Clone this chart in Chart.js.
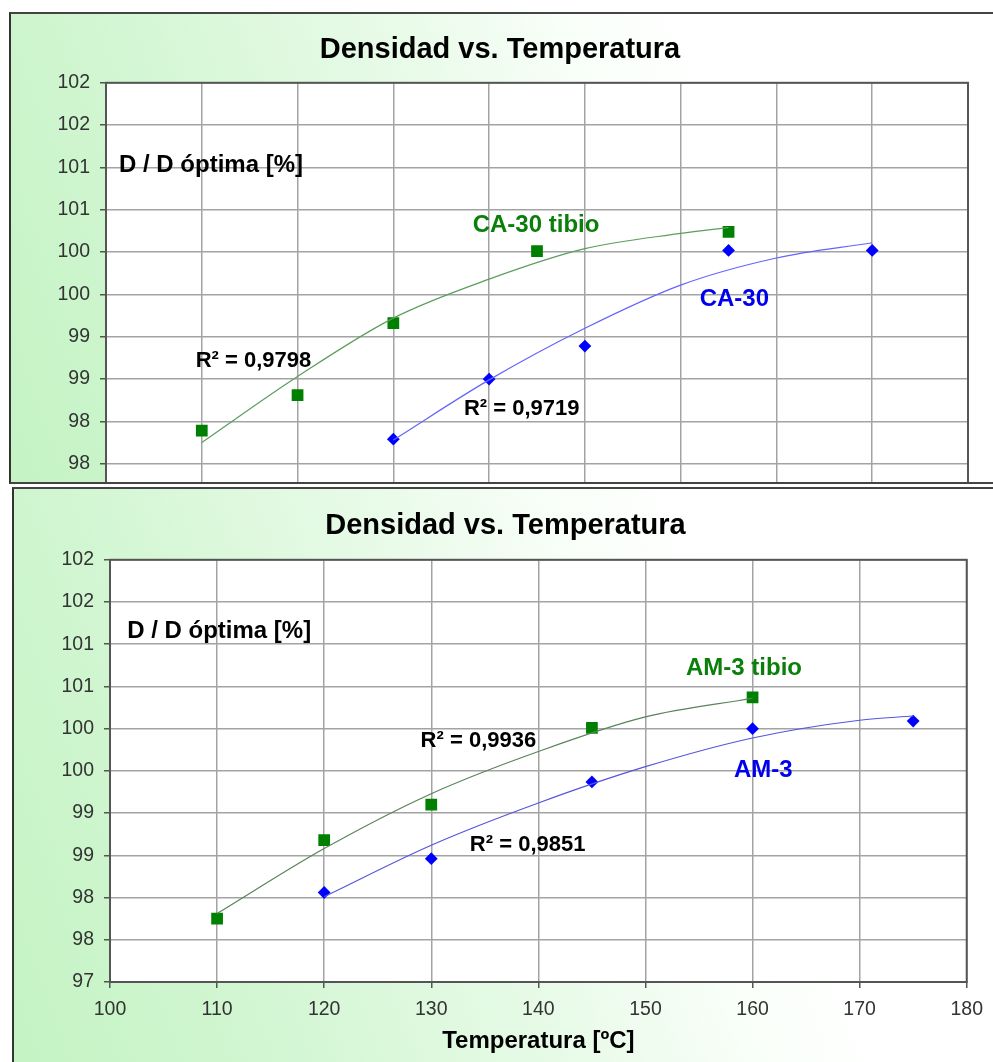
<!DOCTYPE html>
<html>
<head>
<meta charset="utf-8">
<script src="https://cdn.jsdelivr.net/npm/chart.js@4.4.0/dist/chart.umd.min.js"></script>
<style>
  body { margin: 0; background: #fff; width: 993px; height: 1062px; position: relative; overflow: hidden; }
  .frame { position: absolute; box-sizing: border-box;
    background: linear-gradient(70deg, #c4f3c4 0%, #d2f6d2 22%, #e6fae6 45%, #f8fef8 62%, #ffffff 74%); }
  #frameTop { left: 9px; top: 12px; width: 984px; height: 472px;
    border-top: 2px solid #444; border-left: 2px solid #333; border-bottom: 2px solid #444; }
  #frameBot { left: 12px; top: 487px; width: 981px; height: 575px;
    border-top: 2px solid #444; border-left: 2px solid #333; }
  .wrap { position: absolute; left: 0; width: 993px; overflow: hidden; z-index: 2; }
  #wrapTop { top: 0; height: 482px; }
  #wrapBot { top: 487px; height: 575px; }
</style>
</head>
<body>
<div class="frame" id="frameTop"></div>
<div class="frame" id="frameBot"></div>
<div class="wrap" id="wrapTop"><div style="position:relative;width:993px;height:530px"><canvas id="chartTop"></canvas></div></div>
<div class="wrap" id="wrapBot"><div style="position:relative;width:993px;height:575px"><canvas id="chartBot"></canvas></div></div>
<script>
// CA-30 (grafico de arriba)
var caTibioTemp = [110, 120, 130, 145, 165];
var caTibioDens = [97.89, 98.31, 99.16, 100.01, 100.24];
var caTemp = [130, 140, 150, 165, 180];
var caDens = [97.79, 98.50, 98.89, 100.02, 100.02];
// lineas de tendencia
var caTibioTrendTemp = [110, 120, 130, 140, 150, 160, 165];
var caTibioTrendDens = [97.75, 98.53, 99.22, 99.68, 100.04, 100.22, 100.29];
var caTrendTemp = [130, 140, 150, 160, 170, 180];
var caTrendDens = [97.78, 98.49, 99.10, 99.61, 99.93, 100.11];

// AM-3 (grafico de abajo)
var amTibioTemp = [110, 120, 130, 145, 160];
var amTibioDens = [97.75, 98.68, 99.10, 100.01, 100.37];
var amTemp = [120, 130, 145, 160, 175];
var amDens = [98.06, 98.46, 99.37, 100.00, 100.09];
var amTibioTrendTemp = [110, 120, 130, 140, 150, 160];
var amTibioTrendDens = [97.81, 98.58, 99.23, 99.73, 100.14, 100.36];
var amTrendTemp = [120, 130, 140, 150, 160, 170, 175];
var amTrendDens = [98.01, 98.62, 99.12, 99.55, 99.89, 100.10, 100.15];

// eje Y: Excel muestra los valores redondeados sin decimales
var yTicks = [97, 97.5, 98, 98.5, 99, 99.5, 100, 100.5, 101, 101.5, 102];
var yTickLabels = ['97', '98', '98', '99', '99', '100', '100', '101', '101', '102', '102'];

var FONT = '"Liberation Sans", Arial, sans-serif';
var GREEN = '#008000';
var BLUE = '#0000ff';

function pts(xs, ys) {
    return xs.map(function (x, i) { return { x: x, y: ys[i] }; });
}

// fondo blanco y marco del area de trazado
var plotArea = {
    id: 'plotArea',
    beforeDraw: function (chart) {
        var a = chart.chartArea, ctx = chart.ctx;
        ctx.save();
        ctx.fillStyle = '#fff';
        ctx.fillRect(a.left, a.top, a.width, a.height);
        ctx.restore();
    },
    beforeDatasetsDraw: function (chart) {
        var a = chart.chartArea, ctx = chart.ctx;
        ctx.save();
        ctx.strokeStyle = '#555';
        ctx.lineWidth = 2;
        ctx.strokeRect(a.left, a.top, a.width, a.height);
        ctx.restore();
    }
};

// textos sueltos dentro del grafico (R2, nombres de series, eje Y)
var notes = {
    id: 'notes',
    afterDatasetsDraw: function (chart, args, opts) {
        var ctx = chart.ctx, sx = chart.scales.x, sy = chart.scales.y;
        ctx.save();
        ctx.textBaseline = 'middle';
        opts.items.forEach(function (n) {
            ctx.font = 'bold ' + n.size + 'px ' + FONT;
            ctx.fillStyle = n.color;
            ctx.textAlign = n.align || 'center';
            ctx.fillText(n.text, sx.getPixelForValue(n.x), sy.getPixelForValue(n.y));
        });
        ctx.restore();
    }
};

function densChart(id, o) {
    var grid = { color: '#a3a3a3', lineWidth: 1.5, tickLength: 6, tickColor: '#555' };
    return new Chart(document.getElementById(id), {
        type: 'scatter',
        data: {
            datasets: [
                { data: pts(o.tibioTrendT, o.tibioTrendD), showLine: true, pointRadius: 0,
                  borderColor: o.greenLine, borderWidth: 1.2, cubicInterpolationMode: 'monotone', yAxisID: 'y' },
                { data: pts(o.trendT, o.trendD), showLine: true, pointRadius: 0,
                  borderColor: o.blueLine, borderWidth: 1.2, cubicInterpolationMode: 'monotone', yAxisID: 'y' },
                { data: pts(o.tibioT, o.tibioD), pointStyle: 'rect', pointRadius: 8.3,
                  backgroundColor: GREEN, borderWidth: 0, yAxisID: 'y' },
                { data: pts(o.t, o.d), pointStyle: 'rectRot', pointRadius: 6.4,
                  backgroundColor: BLUE, borderWidth: 0, yAxisID: 'y' }
            ]
        },
        options: {
            responsive: true,
            maintainAspectRatio: false,
            animation: false,
            layout: { padding: { left: o.padLeft, right: 0, top: 0, bottom: 0 } },
            plugins: {
                legend: { display: false },
                tooltip: { enabled: false },
                title: {
                    display: true,
                    text: 'Densidad vs. Temperatura',
                    color: '#000',
                    font: { family: FONT, size: 29, weight: 'bold' },
                    padding: o.titlePad
                },
                notes: { items: o.notes }
            },
            scales: {
                x: {
                    type: 'linear',
                    position: 'bottom',
                    min: 100,
                    max: o.xMax,
                    ticks: { stepSize: 10, display: o.xLabels, color: '#333', padding: 10,
                             font: { family: FONT, size: 19.5 } },
                    grid: grid,
                    border: { display: false },
                    title: {
                        display: o.xLabels,
                        text: 'Temperatura [ºC]',
                        color: '#000',
                        font: { family: FONT, size: 24, weight: 'bold' },
                        padding: { top: 4, bottom: 6 }
                    },
                    afterFit: function (s) { s.height = o.xHeight; }
                },
                y: {
                    type: 'linear',
                    position: 'left',
                    min: 97,
                    max: 102,
                    afterBuildTicks: function (s) {
                        s.ticks = yTicks.map(function (v) { return { value: v }; });
                    },
                    ticks: {
                        color: '#333',
                        padding: 10,
                        font: { family: FONT, size: 19.5 },
                        callback: function (v) { return yTickLabels[yTicks.indexOf(v)]; }
                    },
                    grid: grid,
                    border: { display: false },
                    afterFit: function (s) { s.width = o.yWidth; }
                },
                yR: {
                    type: 'linear',
                    position: 'right',
                    ticks: { display: false },
                    grid: { display: false },
                    border: { display: false },
                    afterFit: function (s) { s.width = o.rightWidth; }
                }
            }
        },
        plugins: [plotArea, notes]
    });
}

densChart('chartTop', {
    tibioT: caTibioTemp, tibioD: caTibioDens, t: caTemp, d: caDens,
    tibioTrendT: caTibioTrendTemp, tibioTrendD: caTibioTrendDens,
    trendT: caTrendTemp, trendD: caTrendDens,
    greenLine: '#5a9e5a', blueLine: '#6464ff',
    xMax: 190, xLabels: false, xHeight: 24,
    padLeft: 7, yWidth: 99, rightWidth: 25,
    titlePad: { top: 33, bottom: 15 },
    notes: [
        { text: 'D / D óptima [%]', x: 101.36, y: 101.03, size: 24, color: '#000', align: 'left' },
        { text: 'CA-30 tibio', x: 144.9, y: 100.32, size: 24, color: '#0a7f0a' },
        { text: 'R² = 0,9798', x: 115.4, y: 98.71, size: 22, color: '#000' },
        { text: 'CA-30', x: 165.6, y: 99.44, size: 24, color: '#0000ee' },
        { text: 'R² = 0,9719', x: 143.4, y: 98.15, size: 22, color: '#000' }
    ]
});

densChart('chartBot', {
    tibioT: amTibioTemp, tibioD: amTibioDens, t: amTemp, d: amDens,
    tibioTrendT: amTibioTrendTemp, tibioTrendD: amTibioTrendDens,
    trendT: amTrendTemp, trendD: amTrendDens,
    greenLine: '#5b825b', blueLine: '#5555dd',
    xMax: 180, xLabels: true, xHeight: 80,
    padLeft: 18, yWidth: 92, rightWidth: 20,
    titlePad: { top: 22, bottom: 16 },
    notes: [
        { text: 'D / D óptima [%]', x: 101.6, y: 101.15, size: 24, color: '#000', align: 'left' },
        { text: 'AM-3 tibio', x: 159.2, y: 100.71, size: 24, color: '#0a7f0a' },
        { text: 'R² = 0,9936', x: 134.4, y: 99.86, size: 22, color: '#000' },
        { text: 'AM-3', x: 161.0, y: 99.51, size: 24, color: '#0000ee' },
        { text: 'R² = 0,9851', x: 139.0, y: 98.62, size: 22, color: '#000' }
    ]
});
</script>
</body>
</html>
